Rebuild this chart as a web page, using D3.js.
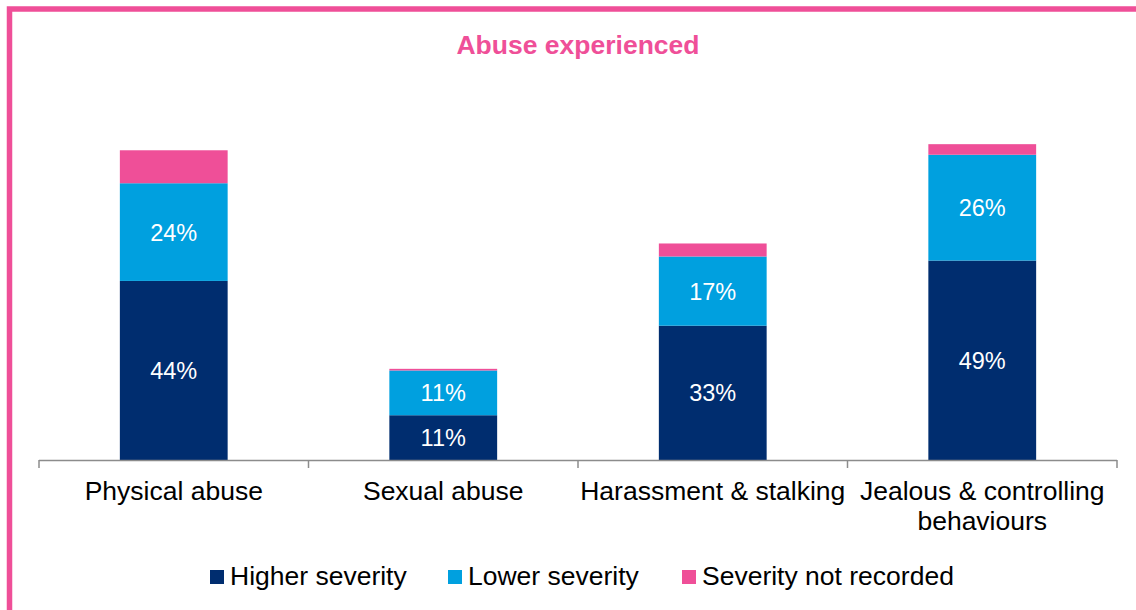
<!DOCTYPE html>
<html><head><meta charset="utf-8">
<script src="https://cdn.jsdelivr.net/npm/d3@7"></script>
<style>body{margin:0;background:#fff;}svg{display:block;font-family:"Liberation Sans",Arial,sans-serif;}</style>
</head><body>
<svg id="chart" width="1136" height="610"></svg>
<script>
const categories = ["Physical abuse", "Sexual abuse", "Harassment & stalking", "Jealous & controlling behaviours"];
const seriesNames = ["Higher severity", "Lower severity", "Severity not recorded"];
const higher = [44, 11, 33, 49];
const lower = [24, 11, 17, 26];
const notRecorded = [8.1, 0.4, 3.2, 2.6];
const colors = ["#002d6f", "#00a0df", "#ef4f98"];

const svg = d3.select("#chart");
// frame
svg.append("path").attr("d","M9.5,700 L9.5,9 L1200,9").attr("fill","none").attr("stroke","#ef4f98").attr("stroke-width",5.5);

svg.append("text").attr("x",578).attr("y",54).attr("text-anchor","middle")
  .attr("font-size",26.5).attr("font-weight","bold").attr("fill","#ef4f98").text("Abuse experienced");

const x = d3.scaleBand().domain(categories).range([39,1117]).paddingInner(0).paddingOuter(0);
const y = d3.scaleLinear().domain([0,100]).range([460,53]);
const barW = x.bandwidth()*0.4;

const data = categories.map((c,i)=>({cat:c, v:[higher[i], lower[i], notRecorded[i]]}));
data.forEach(d=>{
  let acc=0;
  d.v.forEach((val,j)=>{
    const y0=acc, y1=acc+val; acc=y1;
    const cx = x(d.cat)+x.bandwidth()/2;
    svg.append("rect").attr("x",cx-barW/2).attr("width",barW)
      .attr("y",y(y1)).attr("height",y(y0)-y(y1)).attr("fill",colors[j]);
    if(j<2){
      svg.append("text").attr("x",cx).attr("y",(y(y0)+y(y1))/2).attr("dy","0.36em")
        .attr("text-anchor","middle").attr("fill","#fff").attr("font-size",23.5).text(val+"%");
    }
  });
});

// axis
const ax = svg.append("g");
ax.append("line").attr("x1",39).attr("x2",1117).attr("y1",460.5).attr("y2",460.5).attr("stroke","#8c8c8c").attr("stroke-width",1.5);
const ticks = categories.map(c=>x(c)).concat([x.range()[1]]);
ticks.forEach(t=>{
  ax.append("line").attr("x1",t).attr("x2",t).attr("y1",460).attr("y2",468).attr("stroke","#8c8c8c").attr("stroke-width",1.5);
});
const labelLines = [["Physical abuse"],["Sexual abuse"],["Harassment & stalking"],["Jealous & controlling","behaviours"]];
categories.forEach((c,i)=>{
  const t = svg.append("text").attr("text-anchor","middle").attr("font-size",26.5).attr("fill","#000");
  labelLines[i].forEach((ln,k)=>{
    t.append("tspan").attr("x",x(c)+x.bandwidth()/2).attr("y",500+k*30).text(ln);
  });
});

// legend
const legX = [210, 448, 682];
seriesNames.forEach((s,i)=>{
  svg.append("rect").attr("x",legX[i]).attr("y",570).attr("width",14).attr("height",14).attr("fill",colors[i]);
  svg.append("text").attr("x",legX[i]+20).attr("y",585).attr("font-size",26.5).attr("fill","#000").text(s);
});
</script>
</body></html>
